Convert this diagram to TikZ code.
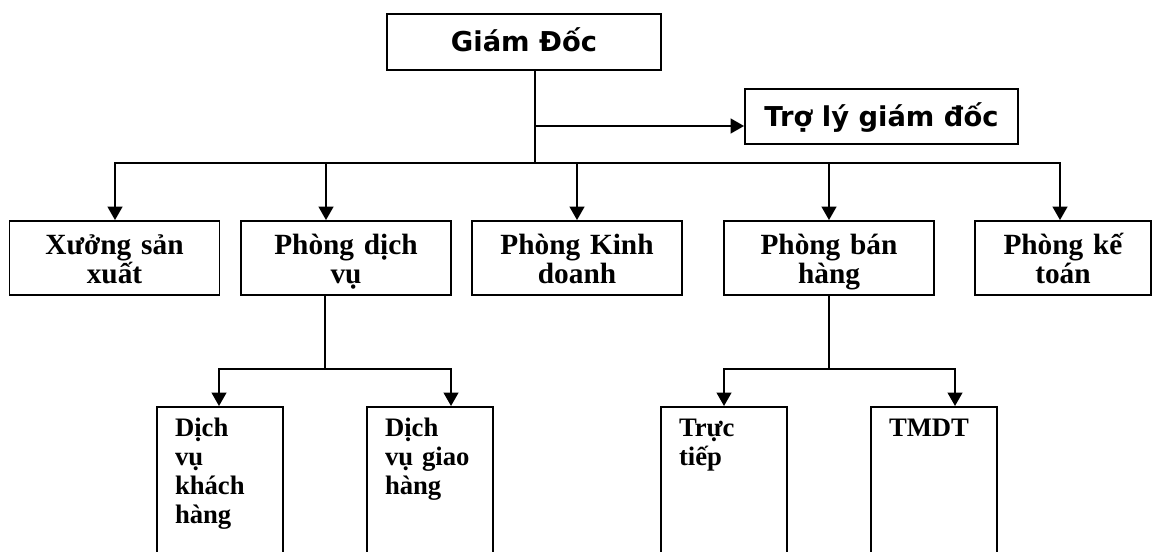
\documentclass[tikz,border=0pt]{standalone}
\usepackage{fontspec}
\setmainfont{Liberation Serif}
\newfontfamily\verdfont{DejaVu Sans}
\usetikzlibrary{arrows.meta, positioning}

\begin{document}
\begin{tikzpicture}[
    x=0.75pt, y=-0.75pt,
    line width=1.4pt,
    topbox/.style={draw, minimum height=42pt, inner sep=0pt, text height=14.5pt, text depth=0pt, font=\verdfont\bfseries\fontsize{20.5}{24}\selectfont},
    dept/.style={draw, minimum width=157.5pt, minimum height=55.5pt, inner sep=0pt, text width=120pt, align=center, text height=17pt, text depth=22pt, font=\bfseries\fontsize{22}{21.75}\selectfont},
    sub/.style={draw, anchor=north, text width=67.5pt, inner xsep=13.5pt, inner ysep=6pt, align=left, text height=16.5pt, text depth=120pt, font=\bfseries\fontsize{20}{21.75}\selectfont},
    arrow/.style={->, >={Triangle[length=10pt, width=11pt]}}
]
    \useasboundingbox (0,0) rectangle (1153,552);
    \clip (0,0) rectangle (1153,552);

    \node[topbox, minimum width=205.5pt] (gd) at (524,42) {Giám Đốc};
    \node[topbox, minimum width=204.75pt, minimum height=41.25pt] (tl) at (881.5,116.5) {Trợ lý giám đốc};

    \node[dept] (xs) at (114.5,258) {Xưởng sản\\xuất};
    \node[dept] (pdv) at (346,258) {Phòng dịch\\vụ};
    \node[dept] (pkd) at (577,258) {Phòng Kinh\\doanh};
    \node[dept] (pbh) at (829,258) {Phòng bán\\hàng};
    \node[dept, minimum width=132pt] (pkt) at (1063,258) {Phòng kế\\toán};

    \node[sub] (dvkh) at (220,406) {Dịch\\vụ\\khách\\hàng};
    \node[sub] (dvgh) at (430,406) {Dịch\\vụ giao\\hàng};
    \node[sub] (tt) at (724,406) {Trực\\tiếp};
    \node[sub] (tmdt) at (934,406) {TMDT};

    \coordinate (bus) at (535,163);
    \coordinate (tlj) at (535,126);
    \coordinate (b1) at (115,163);
    \coordinate (b2) at (326,163);
    \coordinate (b3) at (577,163);
    \coordinate (b4) at (829,163);
    \coordinate (b5) at (1060,163);
    \draw (bus |- gd.south) -- (bus);
    \draw[arrow] (tlj) -- (tlj -| tl.west);
    \draw[arrow] (bus) -| (b1 |- xs.north);
    \draw[arrow] (bus) -| (b5 |- pkt.north);
    \foreach \b/\n in {b2/pdv, b3/pkd, b4/pbh}
        \draw[arrow] (\b) -- (\b |- \n.north);

    \coordinate (s1) at (325,369);
    \coordinate (s1a) at (219,369);
    \coordinate (s1b) at (451,369);
    \draw (s1 |- pdv.south) -- (s1);
    \draw[arrow] (s1) -| (s1a |- dvkh.north);
    \draw[arrow] (s1) -| (s1b |- dvgh.north);

    \coordinate (s2) at (829,369);
    \coordinate (s2a) at (724,369);
    \coordinate (s2b) at (955,369);
    \draw (s2 |- pbh.south) -- (s2);
    \draw[arrow] (s2) -| (s2a |- tt.north);
    \draw[arrow] (s2) -| (s2b |- tmdt.north);
\end{tikzpicture}
\end{document}
